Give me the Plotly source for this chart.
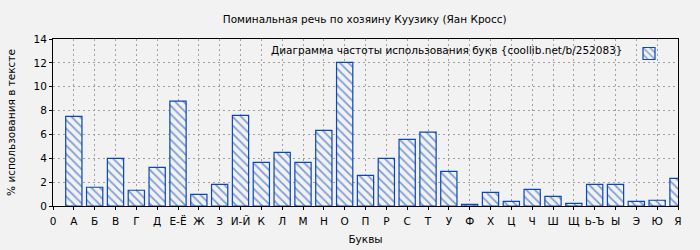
import plotly.graph_objects as go

tick_labels = ["0", "А", "Б", "В", "Г", "Д", "Е-Ё", "Ж", "З", "И-Й", "К", "Л", "М", "Н", "О",
               "П", "Р", "С", "Т", "У", "Ф", "Х", "Ц", "Ч", "Ш", "Щ", "Ь-Ъ", "Ы", "Э", "Ю", "Я"]
letters = tick_labels[1:]
values = [7.52, 1.57, 4.0, 1.32, 3.24, 8.8, 0.98, 1.82, 7.6, 3.66, 4.5, 3.66, 6.34, 12.04,
          2.57, 4.0, 5.59, 6.2, 2.91, 0.14, 1.15, 0.39, 1.4, 0.81, 0.22, 1.82, 1.82, 0.39, 0.48, 2.32]

title = "Поминальная речь по хозяину Куузику (Яан Кросс)"
series_name = "Диаграмма частоты использования букв {coollib.net/b/252083}"
BLUE = "#0a47b8"
BG = "#f2f2f2"
FONT = "DejaVu Sans"
FS = 10.5

fig = go.Figure()
fig.add_trace(go.Bar(
    x=letters, y=values, name=" ", width=0.78,
    marker=dict(color=BG, line=dict(color=BLUE, width=1.2),
                pattern=dict(shape="\\", fgcolor=BLUE, bgcolor=BG, size=6, solidity=0.3)),
    showlegend=True,
))

fig.update_layout(
    width=700, height=250,
    margin=dict(l=53, r=22, t=39, b=44, autoexpand=False),
    paper_bgcolor=BG, plot_bgcolor=BG,
    font=dict(family=FONT, size=FS, color="#000"),
    title=dict(text=title, x=0.521, xanchor="center", y=0.924, yanchor="middle",
               font=dict(size=FS)),
    showlegend=True,
    legend=dict(x=1.0, xanchor="right", y=1.0, yanchor="top", bgcolor="rgba(0,0,0,0)",
                itemwidth=30, font=dict(size=FS)),
    bargap=0.2,
)
fig.add_annotation(text=series_name, xref="paper", yref="paper", x=0.915, y=0.985,
                   xanchor="right", yanchor="top", showarrow=False, font=dict(size=FS))

fig.update_xaxes(type="category", categoryorder="array", categoryarray=tick_labels,
                 tickvals=tick_labels, range=[0, 30], automargin=False,
                 showgrid=True, gridcolor="#a0a0a0", griddash="2px,3px", gridwidth=1,
                 showline=True, linecolor="#000", linewidth=1, mirror=True,
                 ticks="outside", ticklen=3, tickcolor="#000", ticklabelstandoff=2,
                 title=dict(text="Буквы", font=dict(size=FS), standoff=10))
fig.update_yaxes(range=[0, 14], dtick=2, showgrid=True, gridcolor="#a0a0a0",
                 griddash="2px,3px", gridwidth=1, zeroline=False, automargin=False,
                 showline=True, linecolor="#000", linewidth=1, mirror=True,
                 ticks="outside", ticklen=3, tickcolor="#000",
                 title=dict(text="% использования в тексте", font=dict(size=FS), standoff=15))

fig.write_html("out.html")
